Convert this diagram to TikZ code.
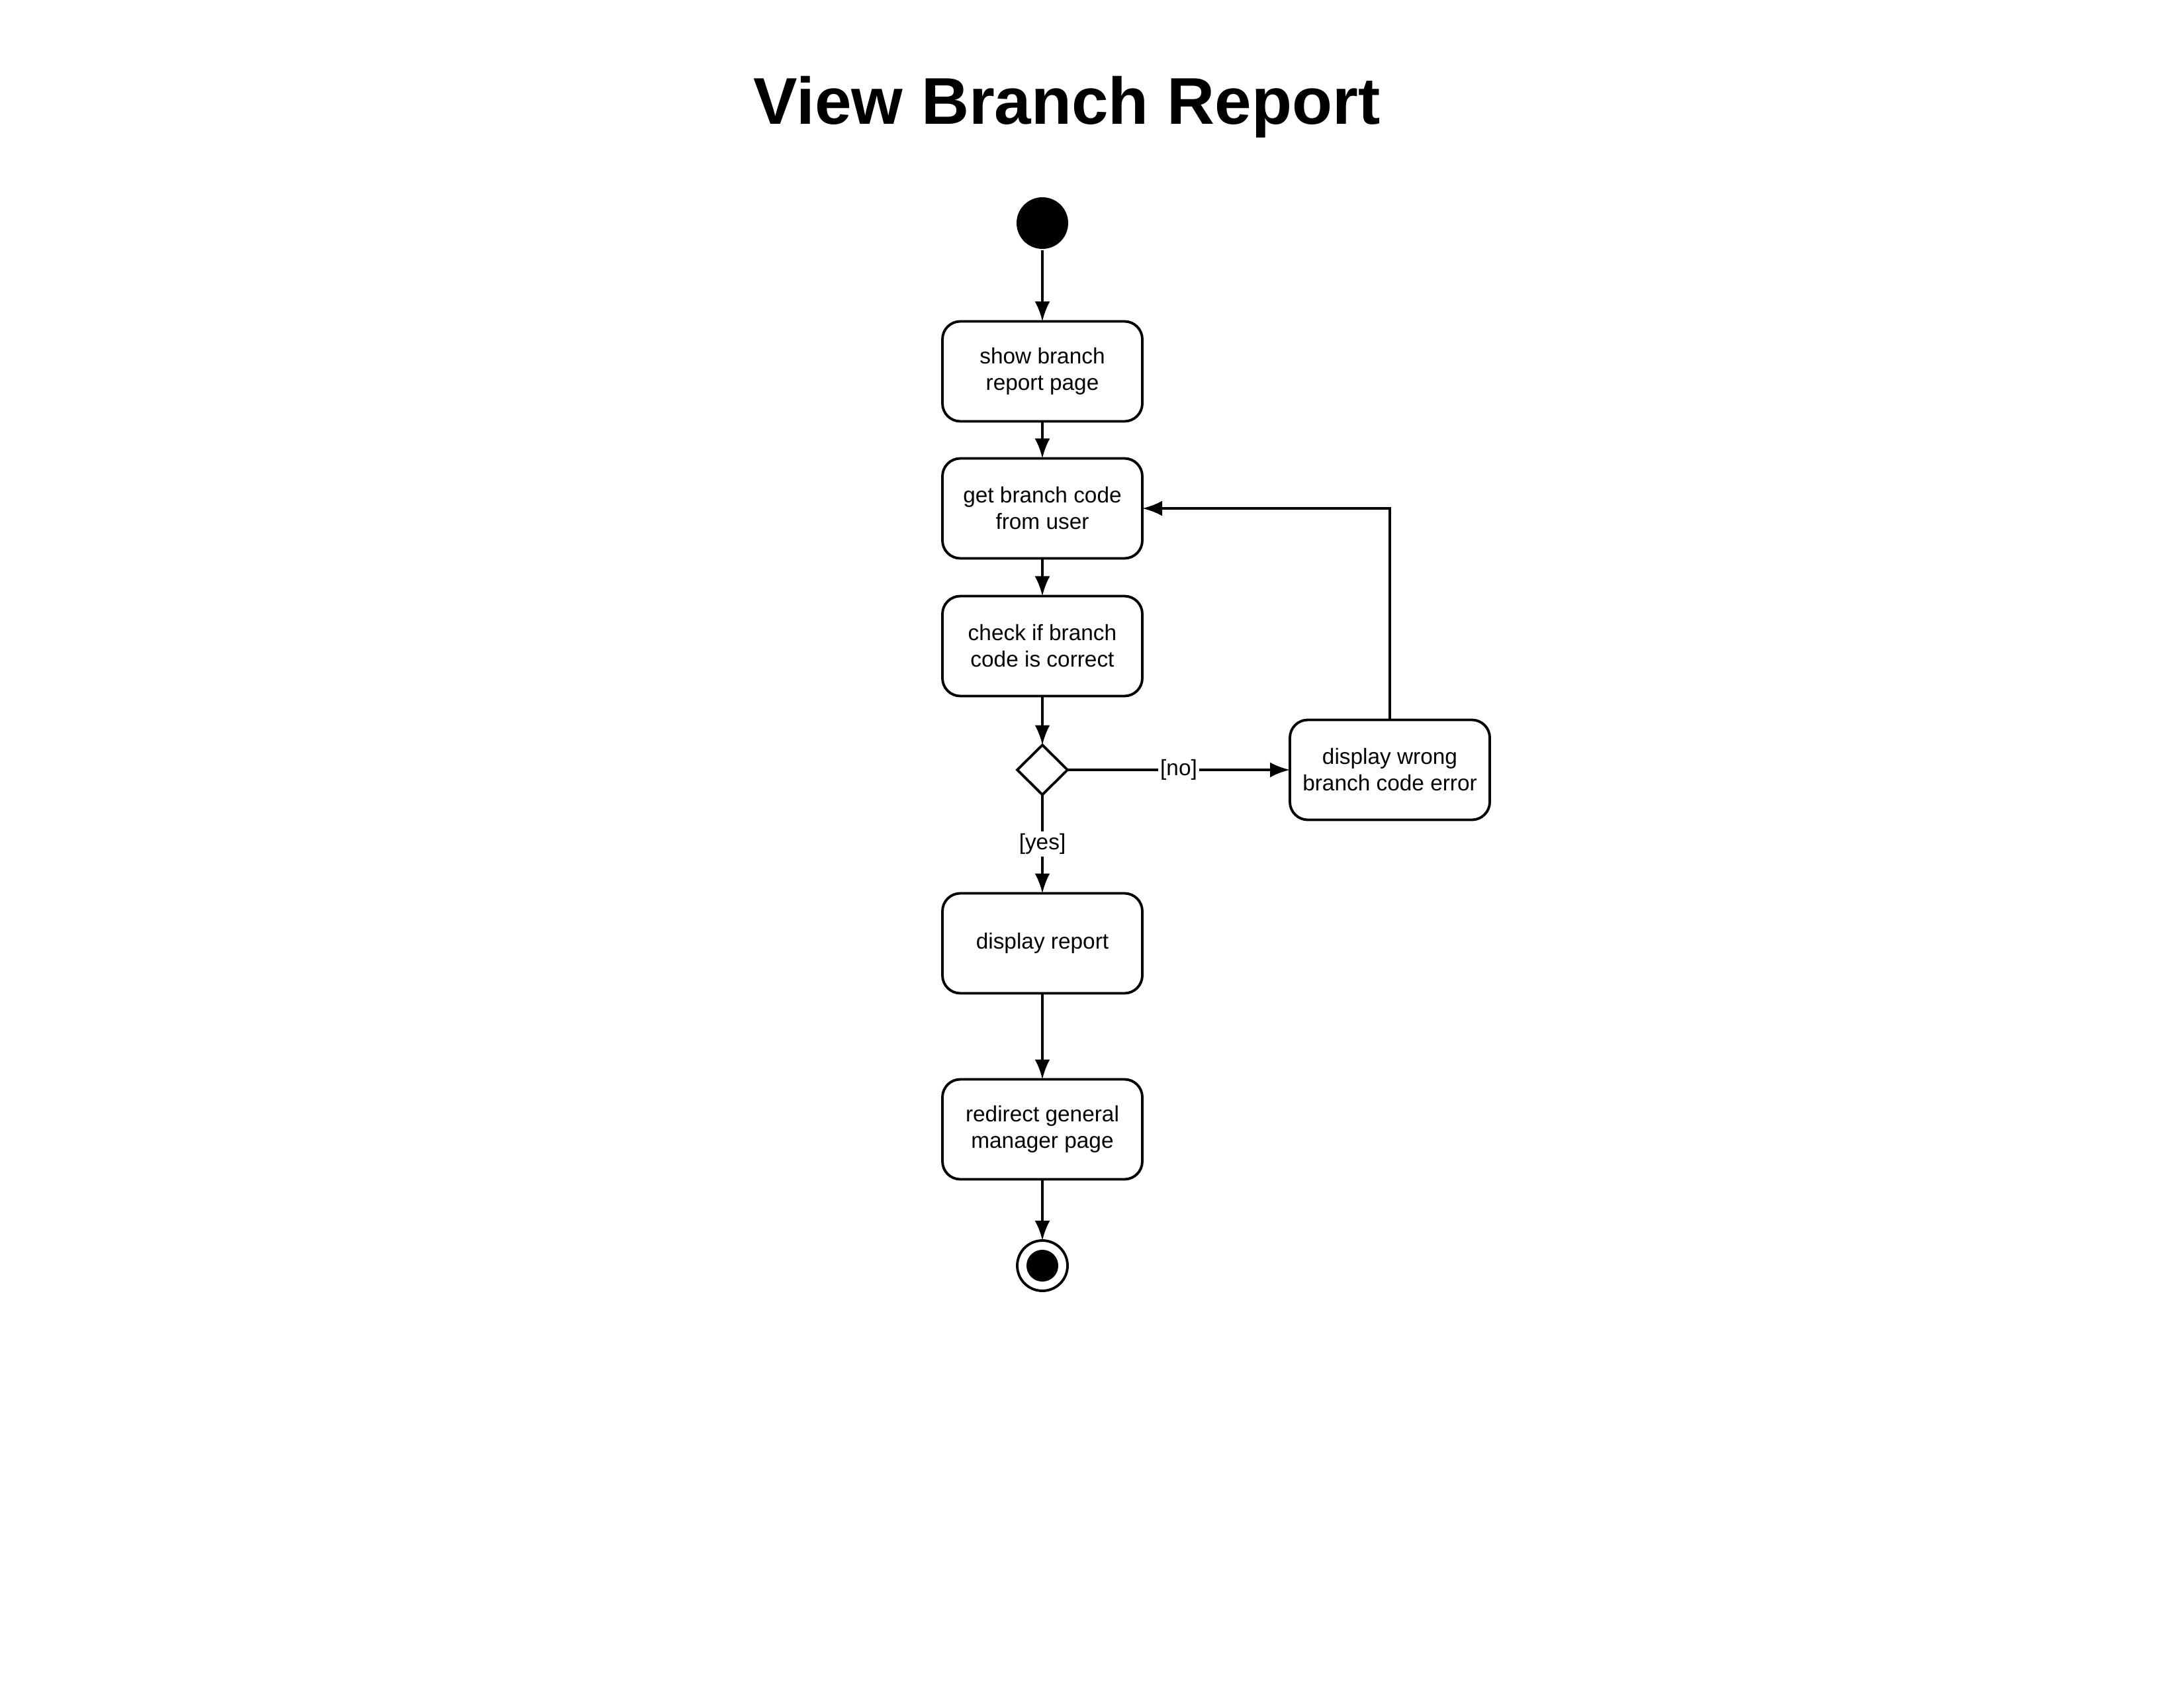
\documentclass[tikz,border=0pt]{standalone}
\usepackage{fontspec}
\setmainfont{Liberation Sans}
\usetikzlibrary{arrows.meta,shapes.geometric}

\begin{document}
\begin{tikzpicture}[>={Latex[length=3mm,width=2.3mm]},line width=1.1pt,
  activity/.style={draw,rounded corners=2.7mm,minimum width=3.02cm,minimum height=1.51cm,
    align=center,inner sep=0pt,outer sep=0pt,font=\fontsize{9.5}{11.4}\selectfont},
  guard/.style={fill=white,inner sep=1pt,font=\fontsize{9.5}{11.4}\selectfont}]

\useasboundingbox (0,0) rectangle (33,-25.5);

\node[font=\fontsize{28.4}{34}\selectfont\bfseries] (title) at (16.12,-1.62) {View Branch Report};

% start / end
\node[circle,fill=black,minimum size=0.78cm,inner sep=0pt] (start) at (15.75,-3.37) {};
\node[circle,draw,minimum size=0.76cm,inner sep=0pt,outer sep=0pt] (final) at (15.75,-19.12) {};
\fill (final.center) circle (0.24);

% activities
\node[activity] (showpage) at (15.75,-5.61) {show branch\\report page};
\node[activity] (getcode) at (15.75,-7.68) {get branch code\\from user};
\node[activity] (checkcode) at (15.75,-9.76) {check if branch\\code is correct};
\node[draw,diamond,minimum width=0.76cm,minimum height=0.75cm,inner sep=0pt,outer sep=0pt] (decide) at (15.75,-11.63) {};
\node[activity] (wrongcode) at (21.00,-11.63) {display wrong\\branch code error};
\node[activity] (report) at (15.75,-14.25) {display report};
\node[activity] (redirect) at (15.75,-17.06) {redirect general\\manager page};

% flows
\draw[->] (start) -- (showpage);
\draw[->] (showpage) -- (getcode);
\draw[->] (getcode) -- (checkcode);
\draw[->] (checkcode) -- (decide);
\draw[->] (decide) -- node[guard] {[no]} (wrongcode);
\draw[->] (decide) -- node[guard] {[yes]} (report);
\draw[->] (wrongcode.north) |- (getcode.east);
\draw[->] (report) -- (redirect);
\draw[->] (redirect) -- (final);

\end{tikzpicture}
\end{document}
